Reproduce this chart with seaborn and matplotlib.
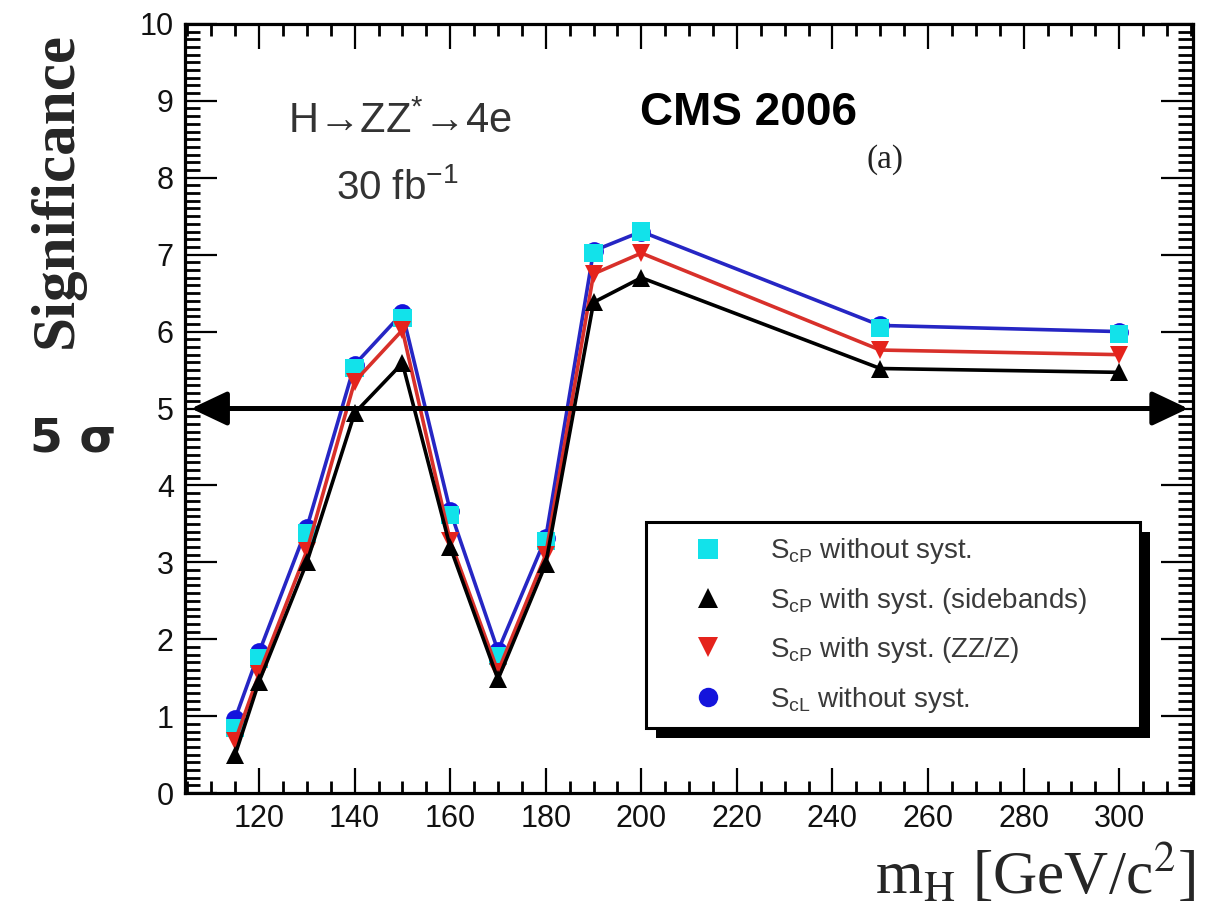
import matplotlib
matplotlib.use("Agg")
import numpy as np
import pandas as pd
import seaborn as sns
import matplotlib.pyplot as plt
from matplotlib.lines import Line2D
from matplotlib.ticker import MultipleLocator
from matplotlib.patches import Rectangle, ArrowStyle

# ---------------- data ----------------
mass = [115, 120, 130, 140, 150, 160, 170, 180, 190, 200, 250, 300]
s_cp_nosyst = [0.85, 1.75, 3.38, 5.53, 6.18, 3.62, 1.78, 3.28, 7.02, 7.30, 6.05, 5.97]
s_cp_sidebands = [0.50, 1.45, 3.00, 4.94, 5.59, 3.20, 1.48, 2.98, 6.38, 6.70, 5.52, 5.47]
s_cp_zzz = [0.68, 1.55, 3.15, 5.35, 6.02, 3.28, 1.58, 3.10, 6.75, 7.02, 5.76, 5.70]
s_cl_nosyst = [0.97, 1.83, 3.45, 5.57, 6.24, 3.67, 1.85, 3.32, 7.05, 7.30, 6.08, 6.00]

legend_labels = [r"S$_{\mathrm{cP}}$ without syst.",
                 r"S$_{\mathrm{cP}}$ with syst. (sidebands)",
                 r"S$_{\mathrm{cP}}$ with syst. (ZZ/Z)",
                 r"S$_{\mathrm{cL}}$ without syst."]
xlims = (104.5, 315.5)
ylims = (0, 10)
five_sigma = 5

CYAN = "#12e2ea"
BLUE = "#1414dc"
BLUE_LINE = "#2626c4"
RED = "#e5231c"
RED_LINE = "#d8302a"
BLACK = "#000000"

# ---------------- style ----------------
sns.set_theme(style="ticks")
plt.rcParams["font.family"] = ["Liberation Sans", "DejaVu Sans"]
plt.rcParams["mathtext.fontset"] = "custom"
plt.rcParams["mathtext.rm"] = "Liberation Sans"
plt.rcParams["mathtext.it"] = "Liberation Sans:italic"
plt.rcParams["mathtext.bf"] = "Liberation Sans:bold"

fig = plt.figure(figsize=(12.09, 9.18), dpi=100)
fig.patch.set_facecolor("white")
ax = fig.add_axes([0.153, 0.136, 0.834, 0.838])
ax.set_facecolor("white")

# ---------------- series ----------------
ms = 13.5
sns.lineplot(x=mass, y=s_cl_nosyst, ax=ax, color=BLUE_LINE, lw=2.6,
             marker="o", markersize=ms, markerfacecolor=BLUE,
             markeredgewidth=0, zorder=3)
sns.scatterplot(x=mass, y=s_cp_nosyst, ax=ax, marker="s", s=ms ** 2 * 0.95,
                color=CYAN, edgecolor="none", zorder=4)
sns.lineplot(x=mass, y=s_cp_zzz, ax=ax, color=RED_LINE, lw=2.6,
             marker="v", markersize=ms, markerfacecolor=RED,
             markeredgewidth=0, zorder=5)
sns.lineplot(x=mass, y=s_cp_sidebands, ax=ax, color=BLACK, lw=2.6,
             marker="^", markersize=ms, markerfacecolor=BLACK,
             markeredgewidth=0, zorder=6)

# ---------------- axes ----------------
ax.set_xlim(*xlims)
ax.set_ylim(*ylims)
ax.xaxis.set_major_locator(MultipleLocator(20))
ax.xaxis.set_minor_locator(MultipleLocator(5))
ax.yaxis.set_major_locator(MultipleLocator(1))
ax.yaxis.set_minor_locator(MultipleLocator(0.1))
for sp in ax.spines.values():
    sp.set_visible(True)
    sp.set_linewidth(2.3)
    sp.set_color("black")
ax.tick_params(which="both", direction="in", top=True, right=True,
               color="black", labelcolor="#111111")
ax.tick_params(axis="x", which="major", length=18, width=1.6, labelsize=22, pad=8)
ax.tick_params(axis="x", which="minor", length=8.5, width=2.0)
ax.tick_params(axis="y", which="major", length=23, width=1.6, labelsize=22, pad=8)
ax.tick_params(axis="y", which="minor", length=11, width=2.0)

ax.set_ylabel("Significance", fontsize=44, fontweight="bold",
              family=["Liberation Serif", "DejaVu Serif"], va="center")
ax.yaxis.set_label_coords(-0.127, 0.784)
ax.set_xlabel(r"m$_{\mathrm{H}}$ [GeV/c$^{2}$]", fontsize=44,
              family=["Liberation Serif", "DejaVu Serif"], math_fontfamily="stix",
              ha="right", va="center")
ax.xaxis.set_label_coords(1.002, -0.107)

# ---------------- annotations ----------------
ax.text(0.213, 0.873, r"H→ZZ$^{*}$→4e", transform=ax.transAxes, fontsize=30,
        color="#333333", ha="center", va="center")
ax.text(0.211, 0.787, r"30 fb$^{-1}$", transform=ax.transAxes, fontsize=29,
        color="#333333", ha="center", va="center")
ax.text(0.5585, 0.884, "CMS 2006", transform=ax.transAxes, fontsize=33,
        fontweight="bold", color="black", ha="center", va="center")
ax.text(0.694, 0.823, "(a)", transform=ax.transAxes, fontsize=24,
        family=["Liberation Serif", "DejaVu Serif"], color="#222222",
        ha="center", va="center")
fig.text(0.0248, 0.522, "5 σ", fontsize=34, fontweight="bold",
         family=["DejaVu Sans"], ha="left", va="center")

span = xlims[1] - xlims[0]
ax.annotate("", xy=(xlims[0] + 0.006 * span, five_sigma),
            xytext=(xlims[1] - 0.005 * span, five_sigma),
            arrowprops=dict(arrowstyle=ArrowStyle("<|-|>", head_length=0.55, head_width=0.26),
                            lw=3.6, color="black", mutation_scale=40,
                            shrinkA=0, shrinkB=0),
            annotation_clip=False, zorder=8)

# ---------------- legend ----------------
handles = [
    Line2D([], [], marker="s", color=CYAN, linestyle="none", markersize=14, markeredgewidth=0),
    Line2D([], [], marker="^", color=BLACK, linestyle="none", markersize=14, markeredgewidth=0),
    Line2D([], [], marker="v", color=RED, linestyle="none", markersize=14, markeredgewidth=0),
    Line2D([], [], marker="o", color=BLUE, linestyle="none", markersize=14, markeredgewidth=0),
]
leg = ax.legend(handles, legend_labels, loc="upper left",
                bbox_to_anchor=(0.457, 0.086, 0.49, 0.266), mode="expand",
                borderaxespad=0, fontsize=20, frameon=True, fancybox=False,
                borderpad=0.5, handlelength=3.5, handletextpad=0.47,
                labelspacing=0.7, labelcolor="#3a3a3a")
leg.get_frame().set_edgecolor("black")
leg.get_frame().set_linewidth(2.2)
leg.get_frame().set_facecolor("white")
leg.get_frame().set_alpha(1)
leg.set_zorder(10)

fig.canvas.draw()
bb = leg.get_window_extent()
inv = ax.transAxes.inverted()
(x0, y0), (x1, y1) = inv.transform([[bb.x0 + 10, bb.y0 - 10], [bb.x1 + 10, bb.y1 - 10]])
ax.add_patch(Rectangle((x0, y0), x1 - x0, y1 - y0, transform=ax.transAxes,
                       facecolor="black", edgecolor="none", zorder=9, clip_on=False))

fig.savefig("out.png", dpi=100, facecolor="white")
